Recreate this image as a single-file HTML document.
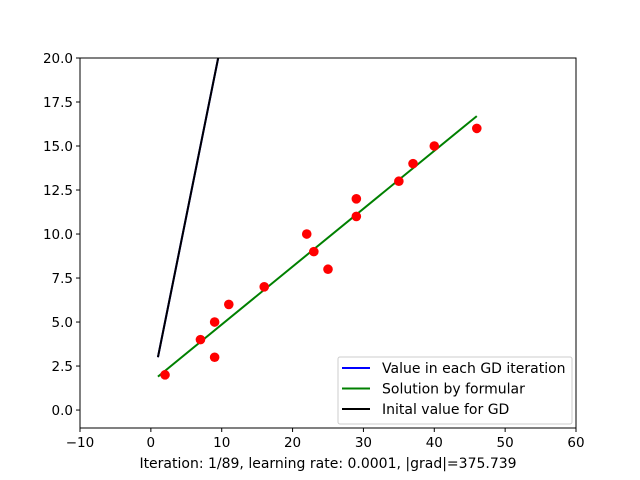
<!DOCTYPE html>
<html><head><meta charset="utf-8"><style>body{margin:0;background:#fff}svg{display:block;font-family:"DejaVu Sans","Liberation Sans",sans-serif}</style></head>
<body>
<svg id="c" width="640" height="480">
<rect x="0" y="0" width="640" height="480" fill="#fff"/>
<g id="plot"></g>
</svg>
<script>
const xTicks=[-10,0,10,20,30,40,50,60];
const yTicks=[0,2.5,5,7.5,10,12.5,15,17.5,20];
const yTickLabels=["0.0","2.5","5.0","7.5","10.0","12.5","15.0","17.5","20.0"];
const pointsX=[2,7,9,9,11,16,22,23,25,29,29,35,37,40,46];
const pointsY=[2,4,5,3,6,7,10,9,8,12,11,13,14,15,16];
const solX=[1,46];
const solY=[1.9,16.7];
const initX=[1,9.5];
const initY=[3,20];
const gdX=[1,9.5];
const gdY=[3,20];
const L=80,R=576,T=58,B=428,xmin=-10,xmax=60,ymin=-1.02,ymax=20;
const sx=v=>L+(v-xmin)/(xmax-xmin)*(R-L);
const sy=v=>B-(v-ymin)/(ymax-ymin)*(B-T);
const NS="http://www.w3.org/2000/svg";
const g=document.getElementById('plot');
function mk(t,a,p){const e=document.createElementNS(NS,t);for(const k in a)e.setAttribute(k,a[k]);(p||g).appendChild(e);return e;}
const clip=mk('clipPath',{id:'cp'});mk('rect',{x:L,y:T,width:R-L,height:B-T},clip);
let e;
e=mk('line',{x1:sx(gdX[0]),y1:sy(gdY[0]),x2:sx(gdX[1]),y2:sy(gdY[1]),stroke:'#0000ff','stroke-width':2,'clip-path':'url(#cp)'});


e=mk('line',{x1:sx(initX[0]),y1:sy(initY[0]),x2:sx(initX[1]),y2:sy(initY[1]),stroke:'#000','stroke-width':2,'clip-path':'url(#cp)'});


e=mk('line',{x1:sx(solX[0]),y1:sy(solY[0]),x2:sx(solX[1]),y2:sy(solY[1]),stroke:'#008000','stroke-width':2});


for(let i=0;i<pointsX.length;i++){
 e=mk('circle',{cx:sx(pointsX[i]),cy:sy(pointsY[i]),r:4.8,fill:'#ff0000'});
 
 
}
e=mk('rect',{x:L,y:T,width:R-L,height:B-T,fill:'none',stroke:'#000','stroke-width':1});


xTicks.forEach(v=>{
 mk('line',{x1:sx(v),y1:B,x2:sx(v),y2:B+4,stroke:'#000'});
 e=mk('text',{x:sx(v),y:B+19,'text-anchor':'middle','font-size':13.5});
 e.textContent=(v<0?'\u2212'+(-v):v);
 
 
});
yTicks.forEach((v,i)=>{
 mk('line',{x1:L-4,y1:sy(v),x2:L,y2:sy(v),stroke:'#000'});
 e=mk('text',{x:L-7,y:sy(v)+5,'text-anchor':'end','font-size':13.5});
 e.textContent=yTickLabels[i];
 
 
});
e=mk('text',{x:328,y:468,'text-anchor':'middle','font-size':14});
e.textContent='Iteration: 1/89, learning rate: 0.0001, |grad|=375.739';


e=mk('rect',{x:338,y:357,width:234,height:67,rx:2,fill:'#fff','fill-opacity':0.8,stroke:'#ccc'});


const leg=[['#0000ff','Value in each GD iteration'],['#008000','Solution by formular'],['#000','Inital value for GD']];
leg.forEach((d,i)=>{
 const y=368+i*20.5;
 mk('line',{x1:342,y1:y,x2:370,y2:y,stroke:d[0],'stroke-width':2});
 e=mk('text',{x:382,y:y+5,'font-size':14});
 e.textContent=d[1];
 
 
});
</script>
</body></html>
